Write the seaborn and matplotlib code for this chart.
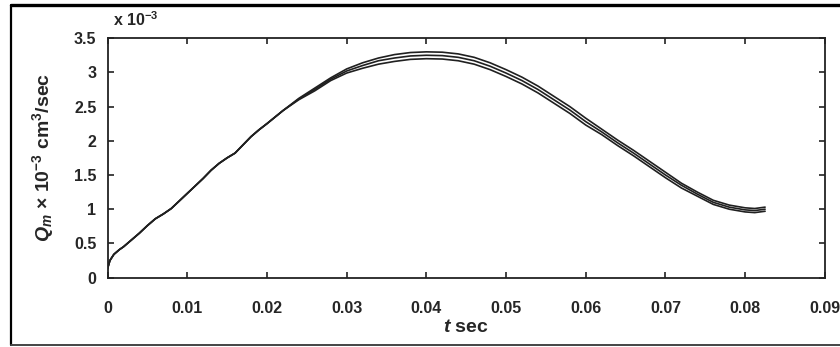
import matplotlib
matplotlib.use("Agg")
import matplotlib.pyplot as plt
from matplotlib.lines import Line2D
import seaborn as sns
import pandas as pd

# time (s)
t = [0, 0.0003, 0.0008, 0.0015, 0.002, 0.003, 0.004, 0.005, 0.006, 0.007,
     0.008, 0.009, 0.010, 0.011, 0.012, 0.013, 0.014, 0.015, 0.016, 0.017,
     0.018, 0.019, 0.020, 0.022, 0.024, 0.026, 0.028, 0.030, 0.032, 0.034,
     0.036, 0.038, 0.040, 0.042, 0.044, 0.046, 0.048, 0.050, 0.052, 0.054,
     0.056, 0.058, 0.060, 0.062, 0.064, 0.066, 0.068, 0.070, 0.072, 0.074,
     0.076, 0.078, 0.080, 0.0812, 0.0825]

# Q_m (x 1e-3 cm^3/sec), three curves
q_mid = [0.13, 0.25, 0.34, 0.41, 0.45, 0.55, 0.65, 0.76, 0.86, 0.93,
         1.01, 1.12, 1.23, 1.34, 1.45, 1.57, 1.67, 1.75, 1.82, 1.94,
         2.06, 2.16, 2.25, 2.44, 2.61, 2.75, 2.90, 3.02, 3.10, 3.17,
         3.21, 3.24, 3.25, 3.245, 3.22, 3.17, 3.09, 2.99, 2.88, 2.75,
         2.60, 2.45, 2.28, 2.13, 1.97, 1.82, 1.66, 1.50, 1.35, 1.22,
         1.10, 1.03, 0.99, 0.98, 1.00]
q_upper = [0.13, 0.25, 0.34, 0.41, 0.45, 0.55, 0.65, 0.76, 0.86, 0.93,
           1.01, 1.12, 1.23, 1.34, 1.45, 1.57, 1.67, 1.75, 1.82, 1.94,
           2.06, 2.16, 2.25, 2.44, 2.62, 2.77, 2.92, 3.05, 3.14, 3.21,
           3.26, 3.29, 3.30, 3.295, 3.27, 3.22, 3.14, 3.04, 2.93, 2.80,
           2.65, 2.50, 2.33, 2.17, 2.01, 1.86, 1.70, 1.54, 1.38, 1.25,
           1.13, 1.06, 1.02, 1.01, 1.03]
q_lower = [0.13, 0.25, 0.34, 0.41, 0.45, 0.55, 0.65, 0.76, 0.86, 0.93,
           1.01, 1.12, 1.23, 1.34, 1.45, 1.57, 1.67, 1.75, 1.82, 1.94,
           2.06, 2.16, 2.25, 2.44, 2.60, 2.73, 2.88, 2.99, 3.06, 3.12,
           3.16, 3.19, 3.20, 3.195, 3.17, 3.12, 3.04, 2.94, 2.83, 2.70,
           2.55, 2.40, 2.23, 2.09, 1.93, 1.78, 1.62, 1.46, 1.31, 1.19,
           1.07, 1.00, 0.96, 0.95, 0.97]

x_ticks = [0, 0.01, 0.02, 0.03, 0.04, 0.05, 0.06, 0.07, 0.08, 0.09]
x_tick_labels = ["0", "0.01", "0.02", "0.03", "0.04", "0.05", "0.06", "0.07", "0.08", "0.09"]
y_ticks = [0, 0.5, 1, 1.5, 2, 2.5, 3, 3.5]
y_tick_labels = ["0", "0.5", "1", "1.5", "2", "2.5", "3", "3.5"]

df = pd.concat([
    pd.DataFrame({"t": t, "Q": q_upper, "run": "upper"}),
    pd.DataFrame({"t": t, "Q": q_mid, "run": "mid"}),
    pd.DataFrame({"t": t, "Q": q_lower, "run": "lower"}),
])

sns.set_style("ticks")
plt.rcParams["font.family"] = ["Liberation Sans", "DejaVu Sans"]
plt.rcParams["mathtext.fontset"] = "custom"
plt.rcParams["mathtext.rm"] = "Liberation Sans:bold"
plt.rcParams["mathtext.it"] = "Liberation Sans:bold:italic"
plt.rcParams["mathtext.bf"] = "Liberation Sans:bold"

fig = plt.figure(figsize=(8.4, 3.47), dpi=100)
ax = fig.add_axes([0.128, 0.200, 0.854, 0.690])

sns.lineplot(data=df, x="t", y="Q", hue="run", units="run", estimator=None,
             palette=["#202020"] * 3, legend=False, linewidth=1.2, ax=ax, sort=False)

ax.set_xlim(0, 0.09)
ax.set_ylim(0, 3.5)
ax.set_xticks(x_ticks)
ax.set_xticklabels(x_tick_labels, fontsize=11.5, fontweight="bold")
ax.set_yticks(y_ticks)
ax.set_yticklabels(y_tick_labels, fontsize=11.5, fontweight="bold")
ax.tick_params(axis="both", direction="in", length=4, width=1.2, color="#222",
               top=True, right=True)
ax.tick_params(axis="x", pad=17)
ax.tick_params(axis="y", pad=8)
for s in ax.spines.values():
    s.set_visible(True)
    s.set_linewidth(1.3)
    s.set_color("#222")

ax.set_xlabel(r"$t$ sec", fontsize=14, fontweight="bold", labelpad=2)
ax.set_ylabel(r"$Q_m$ × 10$^{-3}$ cm$^3$/sec", fontsize=14, fontweight="bold", labelpad=13)
ax.text(0.008, 1.04, r"x 10$^{-3}$", transform=ax.transAxes, fontsize=11.5,
        fontweight="bold", ha="left", va="bottom")

# outer frame (left, top, bottom)
fw, fh = 840, 347
fig.add_artist(Line2D([11 / fw, 11 / fw], [2 / fh, 1 - 5 / fh], transform=fig.transFigure,
                      color="black", linewidth=1.6))
fig.add_artist(Line2D([11 / fw, 1.0], [1 - 5 / fh, 1 - 5 / fh], transform=fig.transFigure,
                      color="black", linewidth=2.4))
fig.add_artist(Line2D([11 / fw, 1.0], [2 / fh, 2 / fh], transform=fig.transFigure,
                      color="#444", linewidth=1.4))

fig.savefig("out.png", dpi=100, facecolor="white")
